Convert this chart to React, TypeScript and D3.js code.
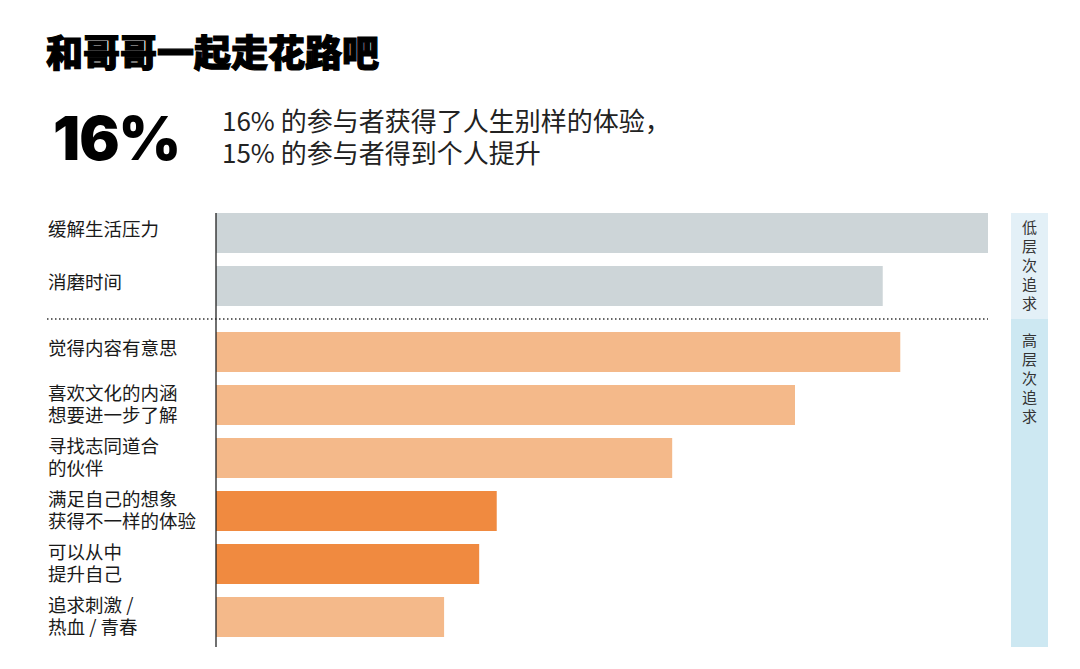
import React from 'react';
import * as d3 from 'd3';

const width = 1080;
const height = 669;

const categories = [
  ['缓解生活压力'],
  ['消磨时间'],
  ['觉得内容有意思'],
  ['喜欢文化的内涵', '想要进一步了解'],
  ['寻找志同道合', '的伙伴'],
  ['满足自己的想象', '获得不一样的体验'],
  ['可以从中', '提升自己'],
  ['追求刺激 /', '热血 / 青春'],
];
const values = [44, 38, 39, 33, 26, 16, 15, 13];
const groups = ['low', 'low', 'high', 'high', 'high', 'high', 'high', 'high'];
const highlight = [false, false, false, false, false, true, true, false];
const groupLabels = ['低层次追求', '高层次追求'];

const gray = '#cdd5d8';
const orange = '#f4b98a';
const darkOrange = '#f08a40';
const font = '"Noto Sans CJK SC", "Noto Sans", sans-serif';

export default function App() {
  const left = 216;
  const right = 988;
  const top = 213;
  const step = 53;
  const pad = 13;
  const groupGap = 13;

  const x = d3.scaleLinear().domain([0, d3.max(values) as number]).range([left, right]);
  const y = d3
    .scaleBand<number>()
    .domain(d3.range(values.length))
    .range([top, top + step * values.length - pad])
    .paddingInner(pad / step)
    .paddingOuter(0);

  const yPos = (i: number) => (y(i) as number) + (groups[i] === 'high' ? groupGap : 0);
  const bh = y.bandwidth();
  const sepY = yPos(1) + bh + 13;
  const bottom = yPos(values.length - 1) + bh + 10;

  return (
    <svg width={width} height={height} style={{ position: 'absolute', left: 0, top: 0 }}>
      <rect width={width} height={height} fill="#fff" />
      <text x={46} y={54} dy="0.35em" fontFamily={font} fontWeight={900} fontSize={37} fill="#000" stroke="#000" strokeWidth={1.2}>
        和哥哥一起走花路吧
      </text>
      <text x={53} y={139} dy="0.35em" fontFamily="Inter, Roboto, sans-serif" fontWeight={900} fontSize={60} fill="#000" letterSpacing={-1}>
        16%
      </text>
      <text x={222} y={122} dy="0.35em" fontFamily={font} fontWeight={400} fontSize={26} fill="#222">
        16% 的参与者获得了人生别样的体验，
      </text>
      <text x={222} y={154} dy="0.35em" fontFamily={font} fontWeight={400} fontSize={26} fill="#222">
        15% 的参与者得到个人提升
      </text>

      {/* side panel */}
      <rect x={1011} y={top} width={37} height={sepY - top} fill="#e3f0f7" />
      <rect x={1011} y={sepY} width={37} height={bottom - sepY} fill="#cde8f2" />
      {groupLabels.map((g, gi) =>
        g.split('').map((ch, ci) => (
          <text
            key={g + ci}
            x={1029.5}
            y={(gi === 0 ? top + 15 : sepY + 22) + ci * 19}
            dy="0.35em"
            textAnchor="middle"
            fontFamily={font}
            fontSize={15}
            fill="#333"
          >
            {ch}
          </text>
        ))
      )}

      {values.map((v, i) => (
        <rect
          key={i}
          x={x(0)}
          y={yPos(i)}
          width={x(v) - x(0)}
          height={bh}
          fill={groups[i] === 'low' ? gray : highlight[i] ? darkOrange : orange}
        />
      ))}

      {categories.map((lines, i) =>
        lines.map((t, li) => (
          <text
            key={i + '-' + li}
            x={48}
            y={yPos(i) + bh / 2 - (lines.length === 1 ? 3 : 0) + (li - (lines.length - 1) / 2) * 22}
            dy="0.35em"
            fontFamily={font}
            fontSize={18.5}
            fill="#1a1a1a"
          >
            {t}
          </text>
        ))
      )}

      <line x1={47} x2={988} y1={sepY} y2={sepY} stroke="#333" strokeWidth={1.5} strokeDasharray="1.5 2.5" />
      <line x1={left} x2={left} y1={top} y2={bottom} stroke="#222" strokeWidth={1.3} />
    </svg>
  );
}
